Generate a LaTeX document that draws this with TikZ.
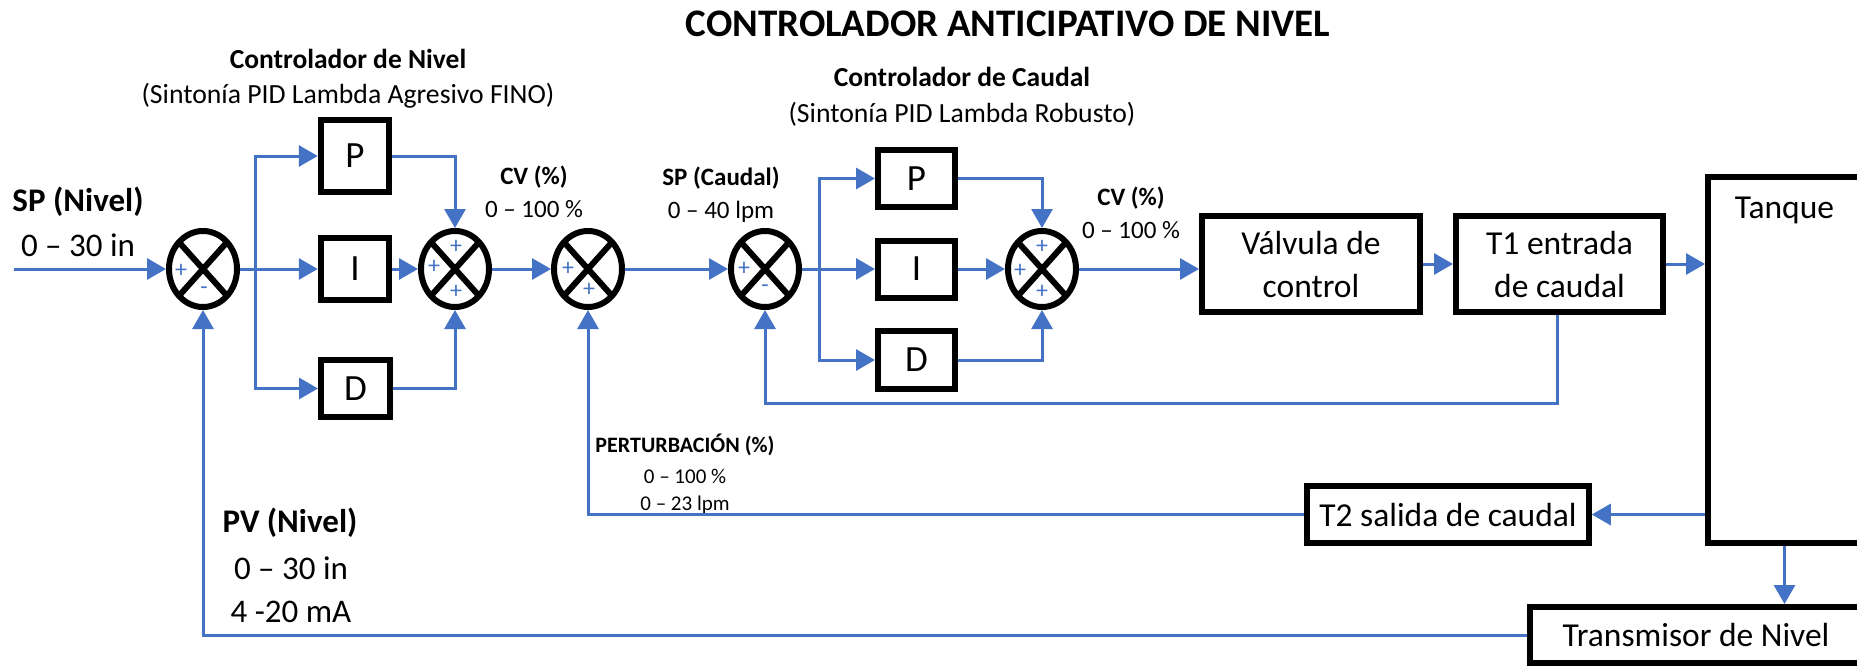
\documentclass[tikz,border=0pt]{standalone}
\usepackage{fontspec}
\setmainfont{Carlito}
\usetikzlibrary{arrows.meta, positioning, shapes.geometric}
\definecolor{flowblue}{RGB}{68,114,196}
\tikzset{
    flow/.style={line width=3pt, flowblue, -{Triangle[length=19pt, width=21pt]}},
    blockbox/.style={draw, line width=6pt, inner sep=0pt, font=\fontsize{33.5}{43}\selectfont, align=center},
    pidbox/.style={blockbox, font=\fontsize{37}{37}\selectfont},
    sumnode/.style={draw, ellipse, line width=6pt, inner sep=0pt, minimum width=68pt, minimum height=76pt,
        path picture={
            \draw[line width=6pt] (path picture bounding box.north west) -- (path picture bounding box.south east);
            \draw[line width=6pt] (path picture bounding box.north east) -- (path picture bounding box.south west);
        }},
    signtext/.style={flowblue, inner sep=0pt, font=\fontsize{24}{24}\selectfont},
    bigtext/.style={inner sep=0pt, font=\fontsize{33}{33}\selectfont},
    bigbold/.style={inner sep=0pt, font=\fontsize{33}{33}\selectfont\bfseries},
    headtext/.style={inner sep=0pt, font=\fontsize{27.5}{27.5}\selectfont\bfseries},
    subtext/.style={inner sep=0pt, font=\fontsize{27.7}{27.7}\selectfont},
    smalltext/.style={inner sep=0pt, font=\fontsize{25}{25}\selectfont},
    smallbold/.style={inner sep=0pt, font=\fontsize{25}{25}\selectfont\bfseries},
    tinytext/.style={inner sep=0pt, font=\fontsize{21}{21}\selectfont},
}

\begin{document}
\begin{tikzpicture}[x=1pt, y=-1pt]
    \useasboundingbox (0,0) rectangle (1857,666);

    % titles
    \node[inner sep=0pt, font=\fontsize{39}{39}\selectfont\bfseries] (title) at (1008,24) {CONTROLADOR ANTICIPATIVO DE NIVEL};
    \node[headtext] (titlenivel) at (348,59) {Controlador de Nivel};
    \node[subtext] (tunenivel) at (348,96) {(Sintonía PID Lambda Agresivo FINO)};
    \node[headtext] (titlecaudal) at (962,77) {Controlador de Caudal};
    \node[subtext] (tunecaudal) at (962,114) {(Sintonía PID Lambda Robusto)};

    % level loop
    \node[sumnode] (sum1) at (203,269) {};
    \node[pidbox, minimum width=68.5pt, minimum height=72pt] (p1) at (355,156) {P};
    \node[pidbox, minimum width=68.5pt, minimum height=62pt] (i1) at (355,269) {I};
    \node[pidbox, minimum width=69pt, minimum height=57pt] (d1) at (355.5,388.5) {D};
    \node[sumnode] (sum2) at (455,269) {};
    \node[sumnode] (sum3) at (588,269) {};

    % flow loop
    \node[sumnode] (sum4) at (765,269) {};
    \node[pidbox, minimum width=77pt, minimum height=57pt] (p2) at (916.5,178.5) {P};
    \node[pidbox, minimum width=77pt, minimum height=57pt] (i2) at (916.5,269) {I};
    \node[pidbox, minimum width=77pt, minimum height=58pt] (d2) at (916.5,360) {D};
    \node[sumnode] (sum5) at (1042,269) {};

    % plant
    \node[blockbox, minimum width=218pt, minimum height=96pt] (valve) at (1311,264) {Válvula de\\control};
    \node[blockbox, minimum width=207pt, minimum height=96pt] (t1) at (1559.5,264) {T1 entrada\\de caudal};
    \node[blockbox, minimum width=153pt, minimum height=366pt] (tank) at (1784.5,360) {};
    \node[blockbox, draw=none] (tanktext) at (1784.5,210) {Tanque};
    \node[blockbox, minimum width=281.5pt, minimum height=57pt] (t2) at (1448,514.5) {T2 salida de caudal};
    \node[blockbox, minimum width=332pt, minimum height=56pt] (trans) at (1696,635) {Transmisor de Nivel};

    % signs
    \node[signtext] (s1a) at (181,271) {+};
    \node[signtext] (s1b) at (204,291) {-};
    \node[signtext] (s2a) at (456,247) {+};
    \node[signtext] (s2b) at (434,267) {+};
    \node[signtext] (s2c) at (456,292) {+};
    \node[signtext] (s3a) at (568,269) {+};
    \node[signtext] (s3b) at (589,290) {+};
    \node[signtext] (s4a) at (744,269) {+};
    \node[signtext] (s4b) at (765,289) {-};
    \node[signtext] (s5a) at (1042,247) {+};
    \node[signtext] (s5b) at (1020,271) {+};
    \node[signtext] (s5c) at (1042,292) {+};

    % signal labels
    \node[bigbold] (spnivel) at (78,202) {SP (Nivel)};
    \node[bigtext] (spnivelr) at (78,245) {0 – 30 in};
    \node[smallbold] (cv1) at (534,177) {CV (\%)};
    \node[smalltext] (cv1r) at (534,209) {0 – 100 \%};
    \node[smallbold] (spcaudal) at (721,178) {SP (Caudal)};
    \node[smalltext] (spcaudalr) at (721,212) {0 – 40 lpm};
    \node[smallbold] (cv2) at (1131,198) {CV (\%)};
    \node[smalltext] (cv2r) at (1131,230) {0 – 100 \%};
    \node[tinytext, font=\fontsize{22}{22}\selectfont\bfseries] (pert) at (685,445) {PERTURBACIÓN (\%)};
    \node[tinytext] (pertr) at (685,476) {0 – 100 \%};
    \node[tinytext] (pertl) at (685,505) {0 – 23 lpm};
    \node[bigbold] (pv) at (290,523) {PV (Nivel)};
    \node[bigtext] (pvr) at (291,568) {0 – 30 in};
    \node[bigtext] (pvm) at (291,612) {4 -20 mA};

    % connectors
    \coordinate (spin) at (14,269);
    \coordinate (branch1) at (255,269);
    \coordinate (branch2) at (819,269);
    \coordinate (t1drop) at (1557,403);

    \draw[flow] (spin) -- (sum1.west);
    \draw[flow] (sum1.east) -- (i1.west);
    \draw[flow] (branch1) |- (p1.west);
    \draw[flow] (branch1) |- (d1.west);
    \draw[flow] (p1.east) -| (sum2.north);
    \draw[flow] (i1.east) -- (sum2.west);
    \draw[flow] (d1.east) -| (sum2.south);
    \draw[flow] (sum2.east) -- (sum3.west);
    \draw[flow] (sum3.east) -- (sum4.west);
    \draw[flow] (sum4.east) -- (i2.west);
    \draw[flow] (branch2) |- (p2.west);
    \draw[flow] (branch2) |- (d2.west);
    \draw[flow] (p2.east) -| (sum5.north);
    \draw[flow] (i2.east) -- (sum5.west);
    \draw[flow] (d2.east) -| (sum5.south);
    \draw[flow] (sum5.east) -- (sum5.east -| valve.west);
    \draw[flow] (valve.east) -- (t1.west);
    \draw[flow] (t1.east) -- (t1.east -| tank.west);
    \draw[flow] (t1.south -| t1drop) -- (t1drop) -| (sum4.south);
    \draw[flow] (t2.east -| tank.west) -- (t2.east);
    \draw[flow] (t2.west) -| (sum3.south);
    \draw[flow] (tank.south) -- (tank.south |- trans.north);
    \draw[flow] (trans.west) -| (sum1.south);
\end{tikzpicture}
\end{document}
